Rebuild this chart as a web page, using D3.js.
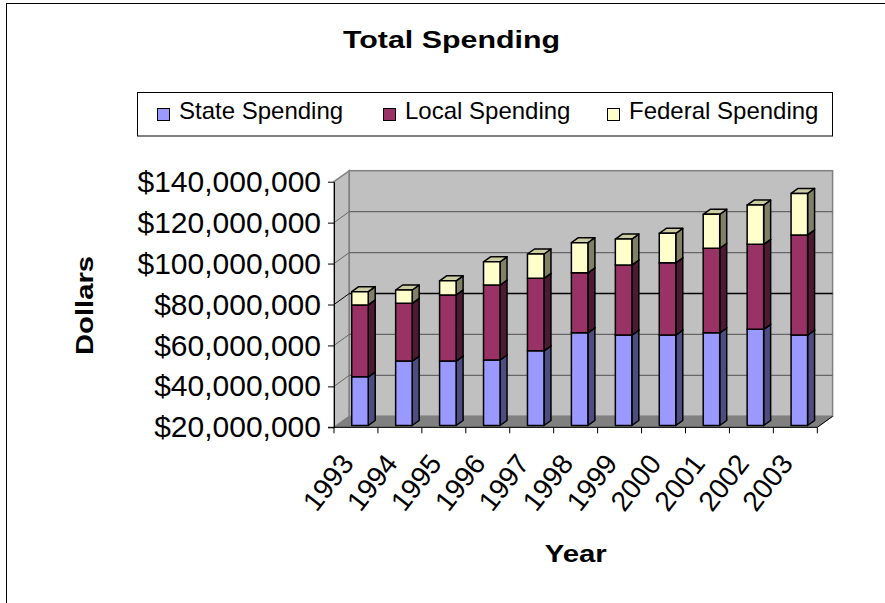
<!DOCTYPE html>
<html><head><meta charset="utf-8">
<script src="https://cdn.jsdelivr.net/npm/d3@7"></script>
<style>
html,body{margin:0;padding:0;background:#fff;}
svg text{font-family:"Liberation Sans",Arial,sans-serif;}
</style></head>
<body><div id="chart"></div>
<script>
// ---- data ----
const years = ["1993","1994","1995","1996","1997","1998","1999","2000","2001","2002","2003"];
const seriesNames = ["State Spending","Local Spending","Federal Spending"];
const stateSpending   = [43800000,51500000,51500000,52000000,56500000,65300000,64200000,64200000,65300000,67000000,64200000];
const localSpending   = [35100000,28200000,32300000,36600000,35400000,29300000,34200000,35300000,41300000,41500000,48900000];
const federalSpending = [ 6500000, 6500000, 6900000,11400000,11900000,14700000,12700000,14400000,16600000,19200000,20300000];
const yTicks = [20000000,40000000,60000000,80000000,100000000,120000000,140000000];

// ---- styles ----
const W = 885, H = 603;
const faceColors = [
  {front:"#9999FF", side:"#4D4D80", top:"#7A7ACC"},
  {front:"#993366", side:"#4D1A33", top:"#7A2952"},
  {front:"#FFFFCC", side:"#808066", top:"#CCCCA3"}
];
const svg = d3.select("#chart").append("svg").attr("width", W).attr("height", H);

// outer frame
svg.append("rect").attr("x",6.5).attr("y",3.5).attr("width",950).attr("height",700)
  .attr("fill","none").attr("stroke","#000").attr("stroke-width",1);

// title
svg.append("text").attr("x",451.5).attr("y",47.7).attr("text-anchor","middle")
  .attr("font-size",24).attr("font-weight","bold")
  .attr("textLength",217).attr("lengthAdjust","spacingAndGlyphs").text("Total Spending");

// legend
const lg = svg.append("g");
lg.append("rect").attr("x",137.5).attr("y",92.5).attr("width",695).attr("height",43.5)
  .attr("fill","#fff").attr("stroke","#000").attr("stroke-width",1);
const legendX = [157, 383, 607];
seriesNames.forEach((n,i)=>{
  lg.append("rect").attr("x",legendX[i]+0.5).attr("y",108.5).attr("width",12).attr("height",12)
    .attr("fill",faceColors[i].front).attr("stroke","#000").attr("stroke-width",1);
  lg.append("text").attr("x",legendX[i]+22).attr("y",119.3).attr("font-size",24).text(n);
});

// ---- scales ----
const front = {left:334, right:817.3, bottom:427.3, top:181.7};
const depth = {dx:15.3, dy:11};
const y = d3.scaleLinear().domain([20000000,140000000]).range([front.bottom, front.top]).clamp(true);
const x = d3.scaleBand().domain(years).range([front.left, front.right]);
const bw = x.bandwidth();

// ---- walls ----
const walls = svg.append("g");
walls.append("path")
  .attr("d",`M${front.left},${front.top}L${front.left+depth.dx},${front.top-depth.dy}L${front.left+depth.dx},${front.bottom-depth.dy}L${front.left},${front.bottom}Z`)
  .attr("fill","#C0C0C0").attr("stroke","#808080").attr("stroke-width",1.5);
walls.append("rect").attr("x",front.left+depth.dx).attr("y",front.top-depth.dy)
  .attr("width",(front.right+depth.dx)-(front.left+depth.dx)).attr("height",front.bottom-front.top)
  .attr("fill","#C0C0C0").attr("stroke","#808080").attr("stroke-width",1.5);
walls.append("path")
  .attr("d",`M${front.left},${front.bottom}L${front.left+depth.dx},${front.bottom-depth.dy}L${front.right+depth.dx},${front.bottom-depth.dy}L${front.right},${front.bottom}Z`)
  .attr("fill","#808080").attr("stroke","#808080").attr("stroke-width",1);

// gridlines
yTicks.filter(t=>t>20000000 && t<140000000).forEach(t=>{
  const c = t===80000000 ? "#000" : "#666666";
  const yy = y(t);
  walls.append("line").attr("x1",front.left+depth.dx).attr("x2",front.right+depth.dx)
    .attr("y1",yy-depth.dy).attr("y2",yy-depth.dy).attr("stroke",c).attr("stroke-width",1.3);
  walls.append("line").attr("x1",front.left).attr("x2",front.left+depth.dx)
    .attr("y1",yy).attr("y2",yy-depth.dy).attr("stroke",c).attr("stroke-width",1);
});

// ---- bars ----
const barW = 16.5, fx = 4, fy = 1.8, bdx = 7, bdy = 5;
const series = [stateSpending, localSpending, federalSpending];
const bars = svg.append("g").attr("stroke","#000").attr("stroke-width",1.5).attr("stroke-linejoin","round");
years.forEach((yr,i)=>{
  const cx = x(yr) + bw/2;
  const x0 = cx - barW/2 + fx, x1 = x0 + barW;
  let base = 0;
  series.forEach((s,k)=>{
    const v = s[i];
    const yb = y(base) - fy, yt = y(base+v) - fy;
    base += v;
    if (yb - yt < 0.1) return;
    const col = faceColors[k];
    bars.append("path").attr("fill",col.side)
      .attr("d",`M${x1},${yt}L${x1+bdx},${yt-bdy}L${x1+bdx},${yb-bdy}L${x1},${yb}Z`);
    bars.append("path").attr("fill",col.top)
      .attr("d",`M${x0},${yt}L${x1},${yt}L${x1+bdx},${yt-bdy}L${x0+bdx},${yt-bdy}Z`);
    bars.append("rect").attr("fill",col.front)
      .attr("x",x0).attr("y",yt).attr("width",barW).attr("height",yb-yt);
  });
});

// ---- axes ----
const yAxis = d3.axisLeft(y).tickValues(yTicks).tickSize(6).tickSizeOuter(0).tickPadding(7)
  .tickFormat(d3.format("$,"));
const yg = svg.append("g").attr("transform",`translate(${front.left},0)`).call(yAxis);
yg.selectAll("text").attr("font-size",30).attr("font-family","Liberation Sans, Arial, sans-serif").attr("fill","#000");
yg.selectAll("line").attr("stroke","#000");
yg.select(".domain").attr("stroke","#000");

const xg = svg.append("g");
xg.append("line").attr("x1",front.left-6).attr("x2",front.right).attr("y1",front.bottom).attr("y2",front.bottom)
  .attr("stroke","#000").attr("stroke-width",1);
xg.append("line").attr("x1",front.right).attr("x2",front.right+depth.dx)
  .attr("y1",front.bottom).attr("y2",front.bottom-depth.dy).attr("stroke","#000").attr("stroke-width",1);
const tickPos = years.map(d=>x(d)).concat([front.right]);
xg.selectAll("line.tick").data(tickPos).join("line").attr("class","tick")
  .attr("x1",d=>d).attr("x2",d=>d).attr("y1",front.bottom).attr("y2",front.bottom+6)
  .attr("stroke","#000").attr("stroke-width",1);
xg.selectAll("text").data(years).join("text")
  .attr("transform",d=>`translate(${x(d)+bw/2-1},464) rotate(-52)`)
  .attr("text-anchor","end").attr("font-size",28).text(d=>d);

// axis titles
svg.append("text").attr("transform","translate(93,305.5) rotate(-90)").attr("text-anchor","middle")
  .attr("font-size",24).attr("font-weight","bold")
  .attr("textLength",99).attr("lengthAdjust","spacingAndGlyphs").text("Dollars");
svg.append("text").attr("x",575.7).attr("y",561.5).attr("text-anchor","middle")
  .attr("font-size",24).attr("font-weight","bold")
  .attr("textLength",62).attr("lengthAdjust","spacingAndGlyphs").text("Year");
</script></body></html>
